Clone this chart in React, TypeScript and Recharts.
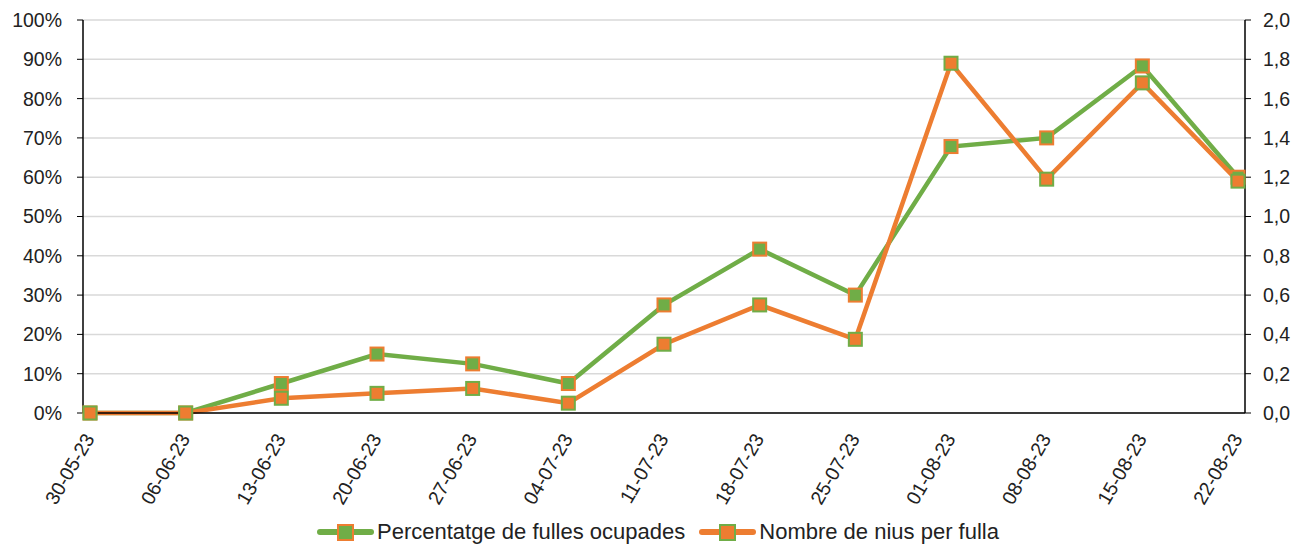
import React from 'react';
import { LineChart, Line, XAxis, YAxis, CartesianGrid, Legend } from 'recharts';

const categories = ['30-05-23', '06-06-23', '13-06-23', '20-06-23', '27-06-23', '04-07-23', '11-07-23', '18-07-23', '25-07-23', '01-08-23', '08-08-23', '15-08-23', '22-08-23'];
const pctLeavesOccupied = [0, 0, 7.5, 15, 12.5, 7.5, 27.5, 41.7, 30, 67.8, 70, 88.3, 60];
const nestsPerLeaf = [0, 0, 0.075, 0.1, 0.125, 0.05, 0.35, 0.55, 0.375, 1.78, 1.19, 1.68, 1.18];
const leftTicks = [0, 10, 20, 30, 40, 50, 60, 70, 80, 90, 100];
const rightTicks = [0, 0.2, 0.4, 0.6, 0.8, 1.0, 1.2, 1.4, 1.6, 1.8, 2.0];

const GREEN = '#70AD47';
const ORANGE = '#ED7D31';
const FONT = '"Liberation Sans", Arial, sans-serif';
const TEXT = '#222222';

const data = categories.map((c, i) => ({ date: c, pct: pctLeavesOccupied[i], nests: nestsPerLeaf[i] }));

const makeMarker = (fill: string, stroke: string) => (props: any) => {
  const { cx, cy, index } = props;
  if (cx == null || cy == null) return <g key={index} />;
  return <rect key={index} x={cx - 6.5} y={cy - 6.5} width={13} height={13} fill={fill} stroke={stroke} strokeWidth={2} />;
};

const XTick = (props: any) => {
  const { x, y, payload } = props;
  return (
    <g transform={`translate(${x - 1},${y + 22}) rotate(-60)`}>
      <text x={0} y={0} textAnchor="end" dominantBaseline="central" fontFamily={FONT} fontSize={19.5} fill={TEXT}>
        {payload.value}
      </text>
    </g>
  );
};

const legendItems = [
  { label: 'Percentatge de fulles ocupades', line: GREEN, fill: GREEN, stroke: ORANGE },
  { label: 'Nombre de nius per fulla', line: ORANGE, fill: ORANGE, stroke: GREEN },
];

const LegendContent = () => (
  <div style={{ display: 'flex', justifyContent: 'center', alignItems: 'center', height: 30, boxSizing: 'border-box', paddingTop: 6, paddingLeft: 4, fontFamily: FONT, fontSize: 22, color: TEXT }}>
    {legendItems.map((it, i) => (
      <div key={i} style={{ display: 'flex', alignItems: 'center', marginRight: i === 0 ? 14 : 0 }}>
        <svg width={57} height={18} style={{ display: 'block' }}>
          <line x1={3} y1={9} x2={54} y2={9} stroke={it.line} strokeWidth={6} strokeLinecap="round" />
          <rect x={21} y={2} width={15} height={15} fill={it.fill} stroke={it.stroke} strokeWidth={2} />
        </svg>
        <span style={{ marginLeft: 3 }}>{it.label}</span>
      </div>
    ))}
  </div>
);

export default function App() {
  return (
    <div style={{ position: 'absolute', left: 0, top: 0, width: 1312, height: 544, background: '#fff' }}>
      <LineChart width={1312} height={544} data={data} margin={{ top: 20, right: 0, left: 0, bottom: 0 }}>
        <CartesianGrid yAxisId="left" horizontal vertical={false} stroke="#D9D9D9" strokeWidth={1.5} />
        <XAxis
          dataKey="date"
          height={101}
          padding={{ left: 7, right: 7 }}
          tick={<XTick />}
          tickLine={false}
          tickSize={0}
          tickMargin={0}
          interval={0}
          axisLine={{ stroke: '#000', strokeWidth: 1.5 }}
        />
        <YAxis
          yAxisId="left"
          orientation="left"
          width={83}
          domain={[0, 100]}
          ticks={leftTicks}
          tickFormatter={(v: number) => `${v}%`}
          tick={{ fontFamily: FONT, fontSize: 19.5, fill: TEXT }}
          tickSize={6}
          tickMargin={15}
          axisLine={{ stroke: '#000', strokeWidth: 1.5 }}
          tickLine={{ stroke: '#000' }}
          interval={0}
        />
        <YAxis
          yAxisId="right"
          orientation="right"
          width={67}
          domain={[0, 2]}
          ticks={rightTicks}
          tickFormatter={(v: number) => v.toFixed(1).replace('.', ',')}
          tick={{ fontFamily: FONT, fontSize: 19.5, fill: TEXT, textAnchor: 'start' }}
          tickSize={6}
          tickMargin={12}
          axisLine={{ stroke: '#000', strokeWidth: 1.5 }}
          tickLine={{ stroke: '#000' }}
          interval={0}
        />
        <Legend verticalAlign="bottom" height={30} content={<LegendContent />} />
        <Line
          yAxisId="left"
          type="linear"
          dataKey="pct"
          stroke={GREEN}
          strokeWidth={4.5}
          dot={makeMarker(GREEN, ORANGE)}
          activeDot={false}
          isAnimationActive={false}
        />
        <Line
          yAxisId="right"
          type="linear"
          dataKey="nests"
          stroke={ORANGE}
          strokeWidth={4.5}
          dot={makeMarker(ORANGE, GREEN)}
          activeDot={false}
          isAnimationActive={false}
        />
      </LineChart>
    </div>
  );
}
